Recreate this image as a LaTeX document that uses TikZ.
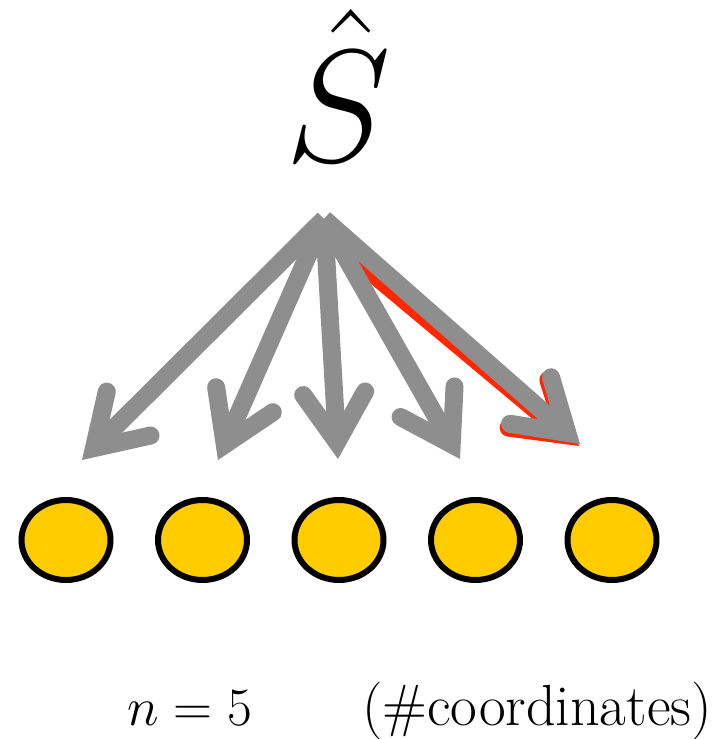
\RequirePackage{fix-cm}
\documentclass[tikz,border=0pt]{standalone}
\usetikzlibrary{arrows.meta,shapes.geometric}
\definecolor{coordyellow}{RGB}{255,204,0}
\definecolor{arrowgray}{RGB}{142,142,142}
\definecolor{shadowred}{RGB}{255,40,0}
\tikzset{
  coord/.style={ellipse,draw=black,fill=coordyellow,line width=6pt,minimum width=89pt,
    minimum height=80pt,inner sep=0pt},
  pick/.style={-{Straight Barb[length=49pt,width=62pt,line cap=round,line join=miter]},
    line width=18pt,draw=#1},
  pick/.default=arrowgray,
  lbl/.style={font=\fontsize{#1}{60}\selectfont,anchor=base,inner sep=0pt},
}

\begin{document}
\begin{tikzpicture}[x=1pt,y=-1pt]
  \useasboundingbox (0,0) rectangle (726,739);
  \node[font=\fontsize{160}{170}\selectfont,anchor=base,inner sep=0pt] (hatS) at (338,161) {$\hat{S}$};
  % coordinates
  \foreach \i/\x in {1/66,2/202.5,3/339,4/475.5,5/612}
    \node[coord] (c\i) at (\x,540) {};
  % arrows from the apex
  \coordinate (apex) at (324,219);
  \coordinate (apexr) at (318,228);
  \foreach \i/\x/\y in {1/82/460,2/218/460,3/338/459,4/460/459,5/580/444}
    \coordinate (t\i) at (\x,\y);
  \coordinate (tr) at (579,446);
  \draw[pick=shadowred] (apexr) -- (tr);
  \foreach \i in {1,...,5}
    \draw[pick] (apex) -- (t\i);
  \node[lbl=54] (lbln) at (190,725) {$n=5$};
  \node[lbl=58] (lblcoord) at (537,725) {(\#coordinates)};
\end{tikzpicture}
\end{document}
